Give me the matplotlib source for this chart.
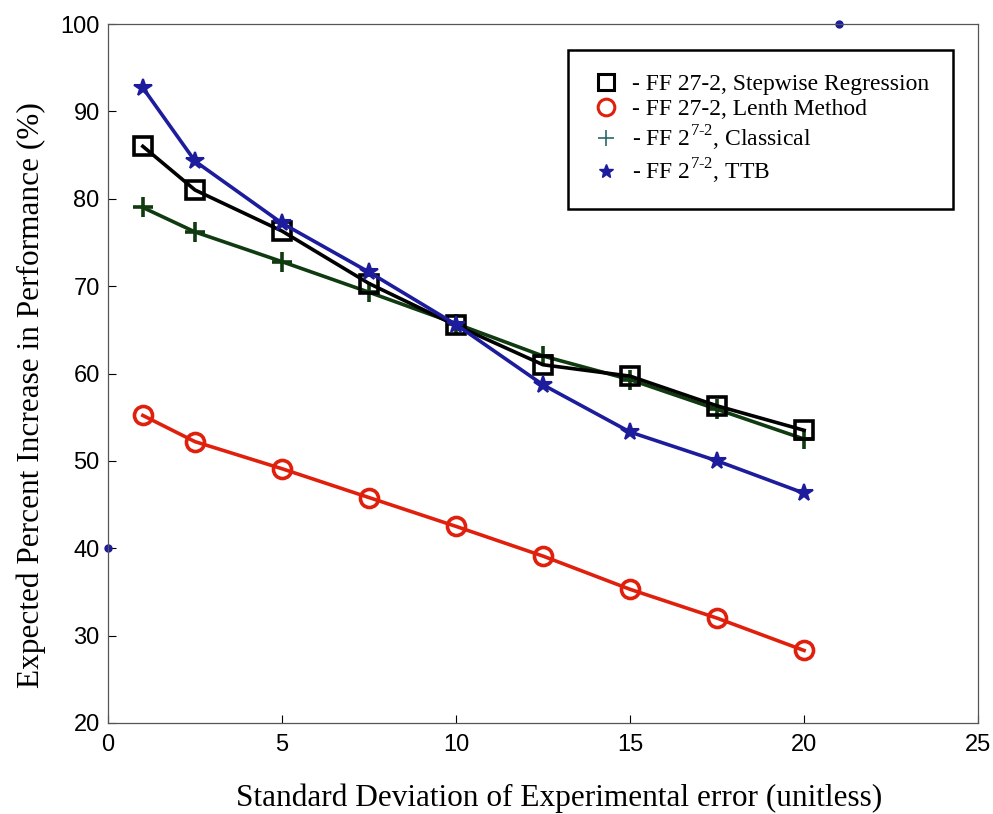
import matplotlib
matplotlib.use("Agg")
import matplotlib.pyplot as plt
from matplotlib.lines import Line2D

# data
sd = [1, 2.5, 5, 7.5, 10, 12.5, 15, 17.5, 20]
stepwise = [86.0, 81.0, 76.3, 70.3, 65.5, 61.0, 59.7, 56.3, 53.5]
lenth = [55.2, 52.2, 49.1, 45.8, 42.5, 39.1, 35.3, 32.0, 28.3]
classical = [79.0, 76.2, 72.8, 69.3, 65.7, 62.0, 59.3, 55.9, 52.5]
ttb = [92.7, 84.3, 77.2, 71.6, 65.6, 58.7, 53.3, 50.0, 46.3]
# two stray points on the frame
stray_x = [0, 21]
stray_y = [40, 100]

labels = ["- FF 27-2, Stepwise Regression",
          "- FF 27-2, Lenth Method",
          r"- FF 2$^{\rm 7\text{-}2}$, Classical",
          r"- FF 2$^{\rm 7\text{-}2}$, TTB"]

plt.rcParams['mathtext.fontset'] = 'custom'
plt.rcParams['mathtext.rm'] = 'Liberation Serif'

fig = plt.figure(figsize=(9.93, 8.14), dpi=100)
ax = fig.add_axes([0.1088, 0.1118, 0.8762, 0.8587])

ax.plot(sd, lenth, color="#e0200c", lw=2.6, marker="o", ms=13,
        mfc="none", mec="#e0200c", mew=2.6)
ax.plot(sd, classical, color="#103a10", lw=2.6, marker="+", ms=15, mew=2.6)
ax.plot(sd, stepwise, color="black", lw=2.6, marker="s", ms=13,
        mfc="none", mew=2.6)
ax.plot(sd, ttb, color="#1c1c9c", lw=2.6, marker="*", ms=13, mew=1.5)
ax.plot(stray_x, stray_y, ls="none", marker="o", ms=5, color="#1c1c9c",
        clip_on=False)

ax.set_xlim(0, 25)
ax.set_ylim(20, 100)
ax.set_xticks([0, 5, 10, 15, 20, 25])
ax.set_yticks([20, 30, 40, 50, 60, 70, 80, 90, 100])
ax.tick_params(direction="in", length=6, width=0.8, labelsize=17)
ax.tick_params(axis="x", pad=8)
ax.tick_params(axis="y", pad=6)
for lab in ax.get_xticklabels() + ax.get_yticklabels():
    lab.set_fontfamily("Liberation Sans")
for sp in ax.spines.values():
    sp.set_color("#555555")
    sp.set_linewidth(0.9)

ax.set_xlabel("Standard Deviation of Experimental error (unitless)",
              family="Liberation Serif", fontsize=22.5, labelpad=20)
ax.set_ylabel("Expected Percent Increase in Performance (%)",
              family="Liberation Serif", fontsize=22.5, labelpad=10)
ax.xaxis.label.set_x(0.518)
ax.yaxis.label.set_y(0.469)

handles = [
    Line2D([], [], ls="none", marker="s", ms=12, mfc="none", mec="black", mew=2.2),
    Line2D([], [], ls="none", marker="o", ms=12, mfc="none", mec="#e0200c", mew=2.2),
    Line2D([], [], ls="none", marker="+", ms=11, mec="#2a6a6a", mew=1.2),
    Line2D([], [], ls="none", marker="*", ms=10, mec="#1c1c9c", mfc="#1c1c9c"),
]
leg = ax.legend(handles, labels, loc="upper left",
                bbox_to_anchor=(0.529, 0.963), fancybox=False,
                framealpha=1, edgecolor="black", borderpad=1.0,
                labelspacing=0.15, handlelength=1.2, handletextpad=0.5,
                borderaxespad=0,
                prop={"family": "Liberation Serif", "size": 17})
leg.get_frame().set_linewidth(1.8)

fig.savefig("out.png", dpi=100)
